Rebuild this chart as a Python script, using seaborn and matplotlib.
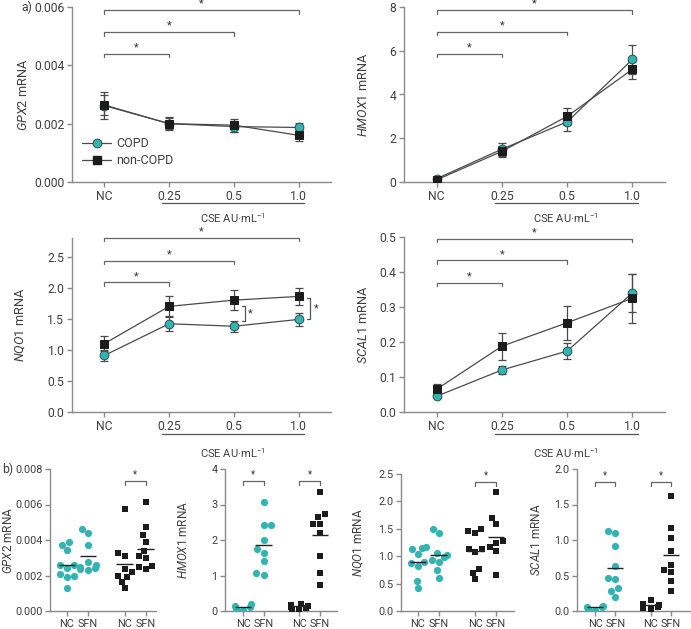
import numpy as np
import pandas as pd
import matplotlib
matplotlib.use("Agg")
import matplotlib.pyplot as plt
import seaborn as sns
from matplotlib.lines import Line2D
from matplotlib.transforms import blended_transform_factory

sns.set_theme(style="ticks")
FONT = 'Roboto'
plt.rcParams['font.family'] = [FONT, 'DejaVu Sans']
plt.rcParams['mathtext.fontset'] = 'custom'
plt.rcParams['mathtext.it'] = FONT + ':italic'
plt.rcParams['mathtext.rm'] = FONT

# ---------------- panel a data ----------------
doses = ["NC", "0.25", "0.5", "1.0"]

gpx2_copd = [0.00262, 0.00200, 0.00190, 0.00187]
gpx2_copd_err = [0.00045, 0.00022, 0.00018, 0.00015]
gpx2_non = [0.00264, 0.00200, 0.00195, 0.00160]
gpx2_non_err = [0.00035, 0.00020, 0.00022, 0.00018]

hmox1_copd = [0.15, 1.50, 2.75, 5.60]
hmox1_copd_err = [0.10, 0.30, 0.42, 0.65]
hmox1_non = [0.10, 1.40, 3.00, 5.15]
hmox1_non_err = [0.08, 0.25, 0.40, 0.45]

nqo1_copd = [0.91, 1.42, 1.38, 1.49]
nqo1_copd_err = [0.09, 0.12, 0.09, 0.10]
nqo1_non = [1.10, 1.70, 1.80, 1.86]
nqo1_non_err = [0.12, 0.17, 0.16, 0.14]

scal1_copd = [0.045, 0.120, 0.174, 0.340]
scal1_copd_err = [0.005, 0.012, 0.022, 0.055]
scal1_non = [0.065, 0.188, 0.255, 0.325]
scal1_non_err = [0.015, 0.038, 0.048, 0.070]

# ---------------- panel b data ----------------
gpx2_copd_nc = [0.0039, 0.00374, 0.00343, 0.0026, 0.0026, 0.0024, 0.0021, 0.0020, 0.0019, 0.0013]
gpx2_copd_sfn = [0.00462, 0.00438, 0.00374, 0.00277, 0.0026, 0.0025, 0.00245, 0.00234, 0.0023]
gpx2_non_nc = [0.00576, 0.00325, 0.00311, 0.00234, 0.00221, 0.00196, 0.00192, 0.00164, 0.00128]
gpx2_non_sfn = [0.00613, 0.00472, 0.00428, 0.00391, 0.00338, 0.00311, 0.0030, 0.00253, 0.00249, 0.00234]
gpx2_lines = [0.00258, 0.00308, 0.00262, 0.00351]

hmox1_copd_nc = [0.19, 0.15, 0.12, 0.07, 0.04]
hmox1_copd_sfn = [3.07, 2.42, 2.42, 2.00, 1.74, 1.62, 1.41, 1.06, 1.01]
hmox1_non_nc = [0.21, 0.18, 0.15, 0.11, 0.08, 0.05, 0.02]
hmox1_non_sfn = [3.34, 2.74, 2.64, 2.45, 2.45, 2.21, 1.56, 1.08, 0.72]
hmox1_lines = [0.11, 1.85, 0.13, 2.13]

nqo1_copd_nc = [1.16, 1.15, 1.13, 1.04, 0.90, 0.87, 0.83, 0.55, 0.42]
nqo1_copd_sfn = [1.50, 1.42, 1.05, 1.02, 0.99, 0.93, 0.89, 0.74, 0.61]
nqo1_non_nc = [1.50, 1.46, 1.42, 1.13, 1.13, 1.08, 0.76, 0.70, 0.58]
nqo1_non_sfn = [2.18, 1.70, 1.59, 1.27, 1.25, 1.16, 1.10, 0.66]
nqo1_lines = [0.89, 1.02, 1.09, 1.35]

scal1_copd_nc = [0.07, 0.06, 0.05, 0.03, 0.02]
scal1_copd_sfn = [1.125, 1.10, 0.92, 0.63, 0.46, 0.45, 0.32, 0.28, 0.20]
scal1_non_nc = [0.15, 0.10, 0.09, 0.08, 0.06, 0.04, 0.03]
scal1_non_sfn = [1.62, 1.17, 1.03, 0.84, 0.65, 0.58, 0.55, 0.42, 0.28]
scal1_lines = [0.05, 0.61, 0.08, 0.79]

b_labels = ["NC", "SFN", "NC", "SFN"]

# ---------------- styling ----------------
TEAL = '#33b3b1'
BLACK = '#1c1c1c'
LINE = '#4a4a4a'
SPINE = '#8a8a8a'
TXT = '#3f3f3f'

W, H = 691, 629
fig = plt.figure(figsize=(W / 100, H / 100), dpi=100)


def add_ax(l, t, r, b):
    return fig.add_axes([l / W, 1 - b / H, (r - l) / W, (b - t) / H])


def style(ax, fs=9):
    sns.despine(ax=ax)
    for s in ('left', 'bottom'):
        ax.spines[s].set_color(SPINE)
        ax.spines[s].set_linewidth(1.0)
    ax.tick_params(axis='both', colors=SPINE, labelcolor=TXT, labelsize=fs,
                   length=3.5, width=1.0, direction='out', pad=2)
    ax.set_facecolor('none')


def bracket(ax, x0, x1, y, drop, star_fs=8):
    ax.plot([x0, x0, x1, x1], [y - drop, y, y, y - drop], color='#666666',
            lw=0.9, clip_on=False, zorder=5)
    ax.text((x0 + x1) / 2, y + drop * 0.4, '*', ha='center', va='bottom',
            fontsize=star_fs, color='#333333', clip_on=False)


def cse_axis(ax, yline, ylabel_pos):
    tr = blended_transform_factory(ax.transData, ax.transAxes)
    ax.plot([0.89, 3.08], [yline, yline], color='#555555', lw=0.9,
            transform=tr, clip_on=False)
    ax.text(1.985, ylabel_pos, 'CSE AU·mL$^{-1}$', transform=tr, ha='center',
            va='center', fontsize=8, color=TXT)


def line_panel(ax, copd, copd_err, non, non_err, ymax, ticks, fmt, gene,
               brackets, drop, labx):
    x = np.arange(len(doses))
    ax.errorbar(x, copd, yerr=copd_err, fmt='none', ecolor=LINE, elinewidth=0.9,
                capsize=2.8, capthick=0.9, zorder=2)
    ax.errorbar(x, non, yerr=non_err, fmt='none', ecolor=LINE, elinewidth=0.9,
                capsize=2.8, capthick=0.9, zorder=2)
    sns.lineplot(x=x, y=copd, ax=ax, color=LINE, lw=0.9, marker='o',
                 markersize=6.3, markerfacecolor=TEAL, markeredgecolor='#2f4f4f',
                 markeredgewidth=0.7, zorder=3)
    sns.lineplot(x=x, y=non, ax=ax, color=LINE, lw=0.9, marker='s',
                 markersize=6.0, markerfacecolor=BLACK, markeredgecolor=BLACK,
                 zorder=4)
    ax.set_xlim(-0.5, 3.5)
    ax.set_ylim(0, ymax)
    ax.set_xticks(x)
    ax.set_xticklabels(doses)
    ax.set_yticks(ticks)
    ax.set_yticklabels([fmt.format(t) for t in ticks])
    ax.set_ylabel(r'$\mathit{' + gene + '}$ mRNA', fontsize=9.2, color=TXT)
    ax.yaxis.set_label_coords(labx, 0.5)
    style(ax, 8.7)
    for xt, yb in zip([1, 2, 3], brackets):
        bracket(ax, 0, xt, yb, drop)


# ---- a) top-left GPX2
axA1 = add_ax(72, 7, 331, 182)
line_panel(axA1, gpx2_copd, gpx2_copd_err, gpx2_non, gpx2_non_err, 0.006,
           [0, 0.002, 0.004, 0.006], '{:.3f}', 'GPX2',
           [0.0044, 0.00514, 0.00589], 0.00012, -0.162)
cse_axis(axA1, -0.12, -0.205)
handles = [Line2D([], [], color=LINE, lw=0.9, marker='o', markersize=6.3,
                  markerfacecolor=TEAL, markeredgecolor='#2f4f4f',
                  markeredgewidth=0.7, label='COPD'),
           Line2D([], [], color=LINE, lw=0.9, marker='s', markersize=6.0,
                  markerfacecolor=BLACK, markeredgecolor=BLACK, label='non-COPD')]
leg = axA1.legend(handles=handles, loc='lower left', bbox_to_anchor=(0.04, 0.085),
                  frameon=False, fontsize=9, handlelength=2.3, handletextpad=0.4,
                  labelspacing=0.3, borderpad=0, borderaxespad=0)
for t in leg.get_texts():
    t.set_color(TXT)
fig.text(21 / W, 1 - 7 / H, 'a)', fontsize=8.7, color=TXT, ha='left', va='center')

# ---- a) top-right HMOX1
axA2 = add_ax(404, 7, 665, 182)
line_panel(axA2, hmox1_copd, hmox1_copd_err, hmox1_non, hmox1_non_err, 8,
           [0, 2, 4, 6, 8], '{:.0f}', 'HMOX1', [5.87, 6.86, 7.85], 0.16, -0.13)
cse_axis(axA2, -0.12, -0.205)

# ---- a) middle-left NQO1
axA3 = add_ax(72, 238, 331, 412)
line_panel(axA3, nqo1_copd, nqo1_copd_err, nqo1_non, nqo1_non_err, 2.8,
           [0, 0.5, 1.0, 1.5, 2.0, 2.5], '{:.1f}', 'NQO1', [2.085, 2.43, 2.80],
           0.05, -0.174)
cse_axis(axA3, -0.126, -0.235)
for xb, (ylo, yhi) in zip([2.17, 3.18], [(1.47, 1.70), (1.50, 1.835)]):
    axA3.plot([xb - 0.05, xb, xb, xb - 0.05], [yhi, yhi, ylo, ylo],
              color='#555555', lw=0.9, zorder=5)
    axA3.text(xb + 0.05, (ylo + yhi) / 2, '*', fontsize=8, color='#333333',
              ha='left', va='center')

# ---- a) middle-right SCAL1
axA4 = add_ax(404, 237, 665, 412)
line_panel(axA4, scal1_copd, scal1_copd_err, scal1_non, scal1_non_err, 0.5,
           [0, 0.1, 0.2, 0.3, 0.4, 0.5], '{:.1f}', 'SCAL1', [0.37, 0.433, 0.495],
           0.01, -0.13)
cse_axis(axA4, -0.126, -0.235)

# ---------------- b) scatter panels ----------------
POS = [0.0, 1.0, 2.75, 3.75]


def scatter_panel(ax, groups, lines, ymax, ticks, fmt, gene, xlim, sig, ybr,
                  drop, labx):
    copd = pd.DataFrame({'pos': [POS[0]] * len(groups[0]) + [POS[1]] * len(groups[1]),
                         'val': list(groups[0]) + list(groups[1])})
    non = pd.DataFrame({'pos': [POS[2]] * len(groups[2]) + [POS[3]] * len(groups[3]),
                        'val': list(groups[2]) + list(groups[3])})
    sns.swarmplot(data=copd, x='pos', y='val', native_scale=True, orient='x',
                  ax=ax, color=TEAL, marker='o', size=5.2, linewidth=0, zorder=3)
    sns.swarmplot(data=non, x='pos', y='val', native_scale=True, orient='x',
                  ax=ax, color=BLACK, marker='s', size=5.0, linewidth=0, zorder=3)
    for p, m in zip(POS, lines):
        ax.hlines(m, p - 0.4, p + 0.4, color='#222222', lw=1.0, zorder=4)
    ax.set_xlim(*xlim)
    ax.set_ylim(0, ymax)
    ax.set_xticks(POS)
    ax.set_xticklabels(b_labels)
    ax.set_yticks(ticks)
    ax.set_yticklabels([fmt.format(t) for t in ticks])
    ax.set_xlabel('')
    ax.set_ylabel(r'$\mathit{' + gene + '}$ mRNA', fontsize=8.5, color=TXT)
    ax.yaxis.set_label_coords(labx, 0.5)
    style(ax, 7.8)
    for k in sig:
        bracket(ax, POS[2 * k], POS[2 * k + 1], ybr, drop, 7)


axB1 = add_ax(50, 469, 156, 611)
scatter_panel(axB1, [gpx2_copd_nc, gpx2_copd_sfn, gpx2_non_nc, gpx2_non_sfn],
              gpx2_lines, 0.008, [0, 0.002, 0.004, 0.006, 0.008], '{:.3f}',
              'GPX2', (-0.81, 4.25), [1], 0.00734, 0.00022, -0.33)
fig.text(2 / W, 1 - 469 / H, 'b)', fontsize=8.7, color=TXT, ha='left', va='center')

axB2 = add_ax(225, 469, 337, 611)
scatter_panel(axB2, [hmox1_copd_nc, hmox1_copd_sfn, hmox1_non_nc, hmox1_non_sfn],
              hmox1_lines, 4, [0, 1, 2, 3, 4], '{:.0f}', 'HMOX1',
              (-0.88, 4.58), [0, 1], 3.65, 0.11, -0.31)

axB3 = add_ax(401, 474, 514, 611)
scatter_panel(axB3, [nqo1_copd_nc, nqo1_copd_sfn, nqo1_non_nc, nqo1_non_sfn],
              nqo1_lines, 2.5, [0, 0.5, 1.0, 1.5, 2.0, 2.5], '{:.1f}', 'NQO1',
              (-0.81, 4.61), [1], 2.36, 0.07, -0.32)

axB4 = add_ax(577, 469, 691, 611)
scatter_panel(axB4, [scal1_copd_nc, scal1_copd_sfn, scal1_non_nc, scal1_non_sfn],
              scal1_lines, 2.0, [0, 0.5, 1.0, 1.5, 2.0], '{:.1f}', 'SCAL1',
              (-0.9, 4.75), [0, 1], 1.82, 0.055, -0.30)

fig.savefig('out.png', dpi=100, facecolor='white')
